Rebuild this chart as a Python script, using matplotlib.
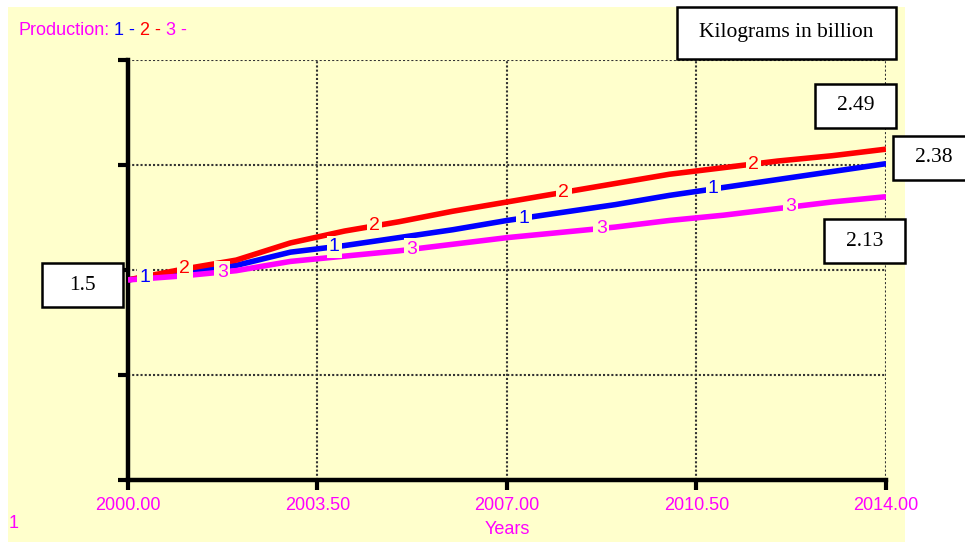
import numpy as np
import matplotlib.pyplot as plt
from matplotlib.patches import Rectangle

# values
years = np.arange(2000, 2015)
prod1 = [1.50, 1.56, 1.61, 1.71, 1.76, 1.82, 1.88, 1.95, 2.01, 2.07, 2.14, 2.20, 2.26, 2.32, 2.38]
prod2 = [1.50, 1.58, 1.65, 1.78, 1.87, 1.94, 2.02, 2.09, 2.16, 2.23, 2.30, 2.35, 2.40, 2.44, 2.49]
prod3 = [1.50, 1.53, 1.57, 1.64, 1.68, 1.72, 1.77, 1.82, 1.86, 1.90, 1.95, 1.99, 2.04, 2.09, 2.13]
xticks = [2000.0, 2003.5, 2007.0, 2010.5, 2014.0]

MAG = '#FF00FF'
BG = '#FFFFCC'
SANS = 'Liberation Sans'
SERIF = 'Liberation Serif'
FS = 13

W, H = 965, 542
fig = plt.figure(figsize=(W / 100, H / 100), dpi=100)
fig.patch.set_facecolor('white')
fig.add_artist(Rectangle((8 / W, 0), (905 - 8) / W, (H - 7) / H, transform=fig.transFigure,
                         facecolor=BG, edgecolor='none', zorder=-10))

ax = fig.add_axes([128 / W, (H - 480) / H, (886 - 128) / W, (480 - 60) / H])
ax.patch.set_visible(False)

series = [(prod1, '#0000FF', '1', 0.31), (prod2, '#FF0000', '2', 1.05), (prod3, MAG, '3', 1.74)]
for vals, col, lab, off in series:
    ax.plot(years, vals, color=col, lw=4, solid_capstyle='butt', zorder=3)
    for k in range(4):
        xp = 2000 + off + 3.5 * k
        yp = np.interp(xp, years, vals)
        ax.text(xp, yp, lab, color=col, fontsize=FS + 1, family=SANS, ha='center', va='center',
                zorder=4, bbox=dict(boxstyle='square,pad=0.12', facecolor=BG, edgecolor='none'))

ax.set_xlim(2000, 2014)
ax.set_ylim(-0.015, 3.165)
ax.set_xticks(xticks)
ax.set_xticklabels([f'{t:.2f}' for t in xticks])
ax.set_yticks(np.linspace(-0.015, 3.165, 5))
ax.tick_params(axis='both', direction='out', length=7.2, width=3, color='black')
ax.tick_params(axis='x', labelcolor=MAG, labelsize=FS, pad=5)
ax.tick_params(axis='y', labelleft=False)
for lbl in ax.get_xticklabels():
    lbl.set_family(SANS)

for side in ['top', 'right']:
    ax.spines[side].set_visible(False)
for side in ['left', 'bottom']:
    ax.spines[side].set_linewidth(3.2)

ax.set_axisbelow(True)
ax.grid(True, color='#333333', linestyle=(0, (1, 1)), linewidth=1.5)

ax.set_xlabel('Years', color=MAG, fontsize=FS, family=SANS, labelpad=5)

# title with coloured pieces
pieces = [('Production:', MAG), (' 1', '#0000FF'), (' -', '#0000FF'), (' 2', '#FF0000'),
          (' -', '#FF0000'), (' 3', MAG), (' -', MAG)]
prev = fig.text(18 / W, 1 - 39 / H, pieces[0][0], color=pieces[0][1], fontsize=FS,
                family=SANS, va='bottom')
for txt, col in pieces[1:]:
    prev = ax.annotate(txt, xy=(1, 0), xycoords=prev, va='bottom', ha='left', color=col,
                       fontsize=FS, family=SANS, annotation_clip=False)

fig.text(14 / W, 1 - 524 / H, '1', color=MAG, fontsize=FS, family=SANS, ha='center', va='center')


def box(x, y, w, h, s):
    fig.add_artist(Rectangle((x / W, 1 - (y + h) / H), w / W, h / H, transform=fig.transFigure,
                             facecolor='white', edgecolor='black', lw=1.8, zorder=5))
    fig.text((x + w / 2) / W, 1 - (y + h / 2) / H, s, ha='center', va='center',
             fontsize=15.5, family=SERIF, zorder=6)


box(677, 7, 219, 52, 'Kilograms in billion')
box(815, 84, 81, 44, f'{prod2[-1]:.2f}')
box(893, 136, 81, 44, f'{prod1[-1]:.2f}')
box(824, 219, 81, 44, f'{prod3[-1]:.2f}')
box(42, 263, 81, 44, f'{prod1[0]:g}')

fig.savefig('out.png', dpi=100, facecolor='white')
